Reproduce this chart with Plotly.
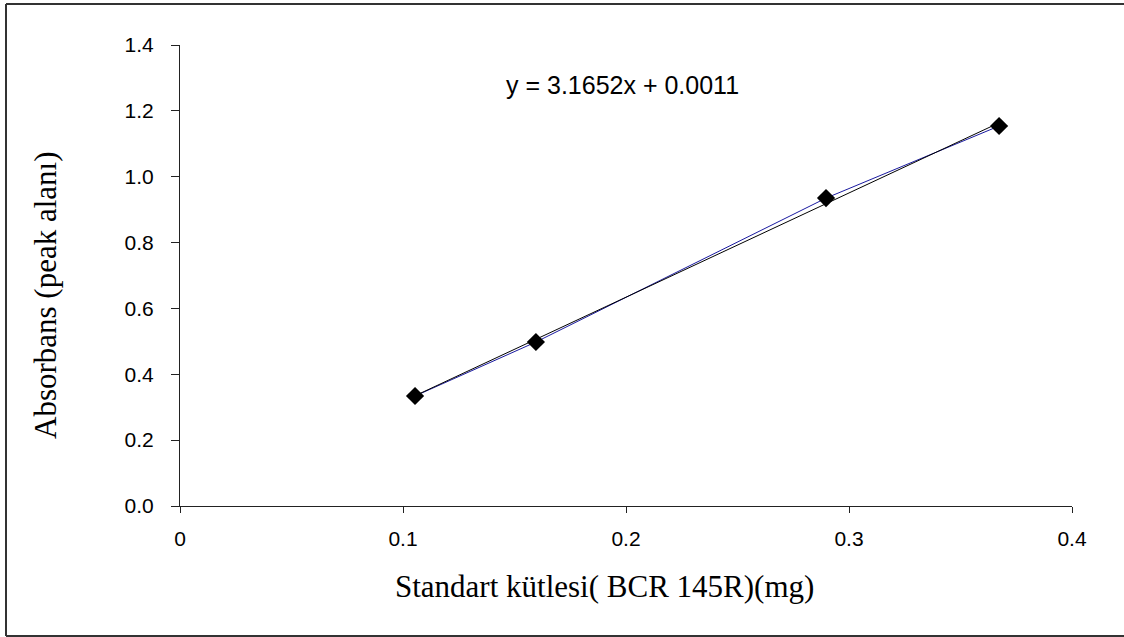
import plotly.graph_objects as go

# Data
mass_mg = [0.1054, 0.1596, 0.2897, 0.3673]
absorbance = [0.334, 0.498, 0.935, 1.154]
slope = 3.1652
intercept = 0.0011
x_ticks = [0, 0.1, 0.2, 0.3, 0.4]
x_tick_labels = ["0", "0.1", "0.2", "0.3", "0.4"]
y_ticks = [0.0, 0.2, 0.4, 0.6, 0.8, 1.0, 1.2, 1.4]
y_tick_labels = ["0.0", "0.2", "0.4", "0.6", "0.8", "1.0", "1.2", "1.4"]
equation_text = "y = 3.1652x + 0.0011"
x_title = "Standart kütlesi( BCR 145R)(mg)"
y_title = "Absorbans (peak alanı)"

trend_x = [min(mass_mg), max(mass_mg)]
trend_y = [slope * v + intercept for v in trend_x]

# plot area in page pixels: x 180..1072, y 45..506
PX0, PX1, PY0, PY1 = 180, 1072, 45, 506


def px(x):
    return (x - PX0) / (PX1 - PX0)


def py(y):
    return (PY1 - y) / (PY1 - PY0)


fig = go.Figure()
fig.add_trace(go.Scatter(
    x=mass_mg, y=absorbance, mode="lines",
    line=dict(color="#1a1aa0", width=1), showlegend=False, hoverinfo="skip"))
fig.add_trace(go.Scatter(
    x=trend_x, y=trend_y, mode="lines",
    line=dict(color="black", width=1), showlegend=False, hoverinfo="skip"))
fig.add_trace(go.Scatter(
    x=mass_mg, y=absorbance, mode="markers",
    marker=dict(symbol="diamond", size=14, color="black"),
    showlegend=False))

frame_line = dict(color="#333", width=2)
axis_font = dict(family="Liberation Sans, Arial", size=21, color="black")
fig.update_layout(
    width=1124, height=637,
    margin=dict(l=180, r=52, t=45, b=131),
    paper_bgcolor="white", plot_bgcolor="white",
    xaxis=dict(range=[0, 0.4], tickvals=x_ticks, ticktext=x_tick_labels,
               showgrid=False, zeroline=False, showline=True, linecolor="#222",
               linewidth=1, ticks="outside", ticklen=6, tickcolor="#222",
               tickfont=axis_font, ticklabelstandoff=8),
    yaxis=dict(range=[0, 1.4], tickvals=y_ticks, ticktext=y_tick_labels,
               showgrid=False, zeroline=False, showline=True, linecolor="#222",
               linewidth=1, ticks="outside", ticklen=8, tickcolor="#222",
               tickfont=axis_font, ticklabelstandoff=13),
    shapes=[
        dict(type="line", xref="paper", yref="paper",
             x0=px(6), x1=px(6), y0=py(636), y1=py(4), line=frame_line),
        dict(type="line", xref="paper", yref="paper",
             x0=px(6), x1=px(1124), y0=py(4), y1=py(4), line=frame_line),
        dict(type="line", xref="paper", yref="paper",
             x0=px(6), x1=px(1124), y0=py(636), y1=py(636), line=frame_line),
    ],
    annotations=[
        dict(text=equation_text, xref="paper", yref="paper",
             x=px(622), y=py(85), showarrow=False,
             xanchor="center", yanchor="middle",
             font=dict(family="Liberation Sans, Arial", size=25, color="black")),
        dict(text=x_title, xref="paper", yref="paper",
             x=px(604), y=py(586), showarrow=False,
             xanchor="center", yanchor="middle",
             font=dict(family="Liberation Serif, Times New Roman", size=31, color="black")),
        dict(text=y_title, xref="paper", yref="paper", textangle=-90,
             x=px(45), y=py(295), showarrow=False,
             xanchor="center", yanchor="middle",
             font=dict(family="Liberation Serif, Times New Roman", size=31, color="black")),
    ],
)

fig.write_html(
    "out.html",
    config={"displayModeBar": False},
    post_script="document.body.style.margin='0';document.body.style.overflow='hidden';",
)
